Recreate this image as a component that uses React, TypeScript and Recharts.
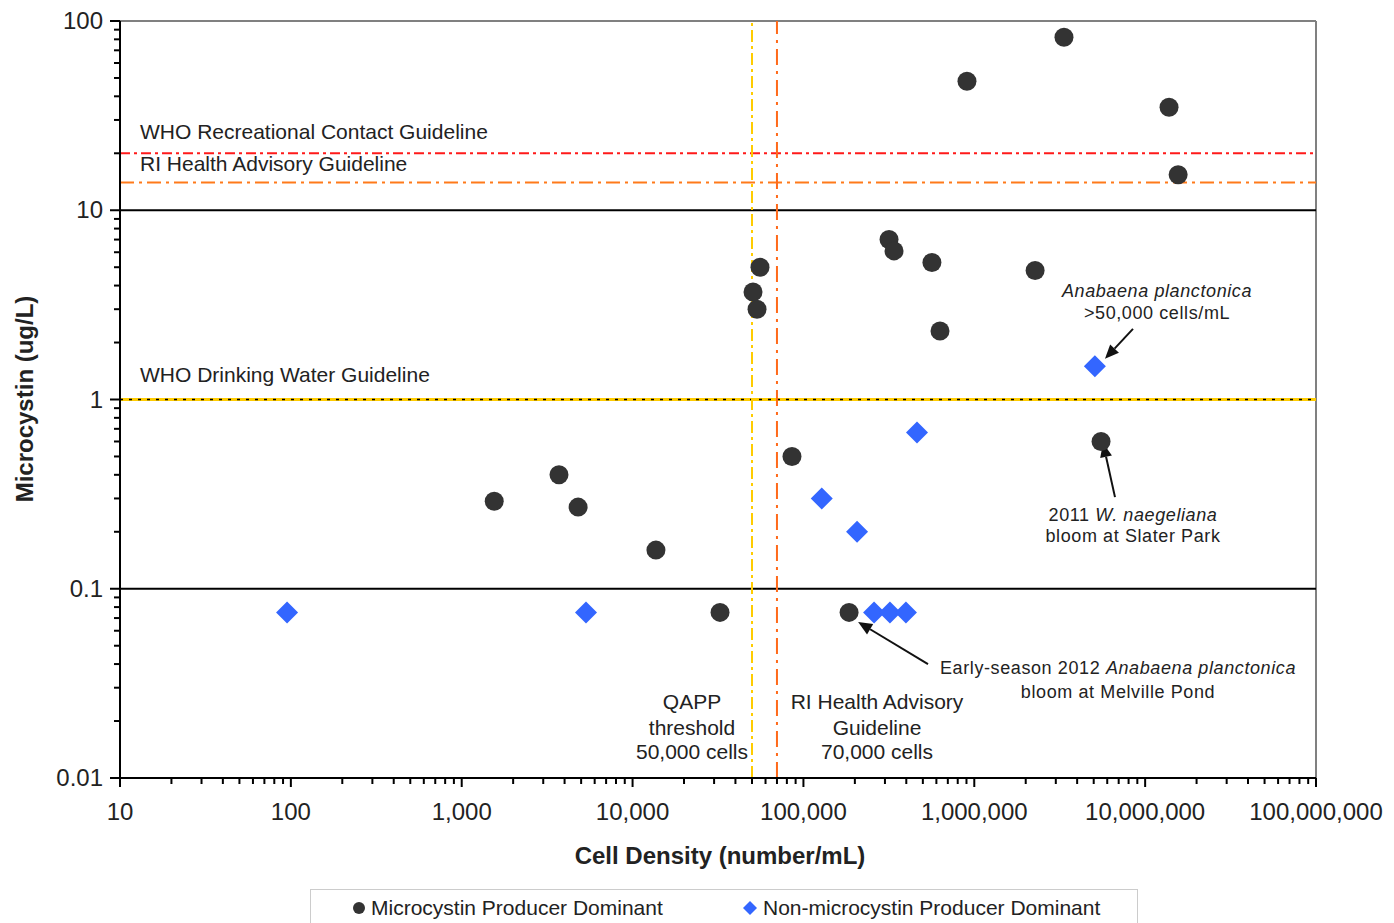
import React from "react"
import { ScatterChart, Scatter, XAxis, YAxis, ReferenceLine } from "recharts"

// cell density (number/mL) and microcystin (ug/L)
const producerDensity = [
  3350000, 906000, 13800000, 15600000, 317000, 339000, 565000, 2270000, 55700, 50700,
  53500, 630000, 5520000, 85700, 3710, 1550, 4800, 13700, 32500, 185000,
]
const producerMicrocystin = [
  82, 48, 35, 15.4, 7.0, 6.1, 5.3, 4.8, 5.0, 3.7,
  3.0, 2.3, 0.6, 0.5, 0.4, 0.29, 0.27, 0.16, 0.075, 0.075,
]
const nonProducerDensity = [5080000, 462000, 128000, 206000, 95, 5340, 259000, 321000, 398000]
const nonProducerMicrocystin = [1.5, 0.67, 0.3, 0.2, 0.075, 0.075, 0.075, 0.075, 0.075]

const xMajorTicks = [10, 100, 1000, 10000, 100000, 1000000, 10000000, 100000000]
const yMajorTicks = [0.01, 0.1, 1, 10, 100]

// guideline values
const whoRecreational = 20
const riHealthAdvisory = 14
const whoDrinking = 1
const qappThreshold = 50000
const riCellThreshold = 70000

// arrow annotations [from, to] in data units
const arrowAnabaena = [{ x: 8490000, y: 2.36 }, { x: 5820000, y: 1.64 }]
const arrowWoronichinia = [{ x: 6660000, y: 0.305 }, { x: 5670000, y: 0.589 }]
const arrowMelville = [{ x: 536000, y: 0.04 }, { x: 209000, y: 0.0667 }]

const withMinors = (majors: number[]) => {
  const out: number[] = []
  majors.forEach((m, i) => {
    out.push(m)
    if (i < majors.length - 1) for (let k = 2; k <= 9; k++) out.push(+(m * k).toPrecision(6))
  })
  return out
}
const xTicks = withMinors(xMajorTicks)
const yTicks = withMinors(yMajorTicks)
const isMajor = (v: number) => Math.abs(Math.log10(v) - Math.round(Math.log10(v))) < 1e-9

const producerData = producerDensity.map((x, i) => ({ x, y: producerMicrocystin[i] }))
const nonProducerData = nonProducerDensity.map((x, i) => ({ x, y: nonProducerMicrocystin[i] }))

const FONT = "'Liberation Sans', Arial, sans-serif"
const TEXT = "#222"

function XTick(props: any) {
  const { x, y, payload } = props
  const major = isMajor(payload.value)
  return (
    <g>
      <line x1={x} x2={x} y1={y} y2={y + (major ? 9 : 6)} stroke="#000" strokeWidth={2} />
      {major && (
        <text x={x} y={y + 42} textAnchor="middle" fontSize={24} fontFamily={FONT} fill={TEXT}>
          {payload.value.toLocaleString("en-US")}
        </text>
      )}
    </g>
  )
}

function YTick(props: any) {
  const { x, y, payload } = props
  const major = isMajor(payload.value)
  return (
    <g>
      <line x1={x - (major ? 10 : 6)} x2={x} y1={y} y2={y} stroke="#000" strokeWidth={2} />
      {major && (
        <text x={x - 17} y={y + 8} textAnchor="end" fontSize={24} fontFamily={FONT} fill={TEXT}>
          {String(payload.value)}
        </text>
      )}
    </g>
  )
}

const Dot = (p: any) => <circle cx={p.cx} cy={p.cy} r={9.5} fill="#333" />
const Diamond = (p: any) => (
  <polygon
    points={`${p.cx},${p.cy - 11} ${p.cx + 11},${p.cy} ${p.cx},${p.cy + 11} ${p.cx - 11},${p.cy}`}
    fill="#3366ff"
  />
)

const Arrow = (p: any) => {
  const { x1, y1, x2, y2 } = p
  const a = Math.atan2(y2 - y1, x2 - x1)
  const len = 14
  const w = 6
  const bx = x2 - len * Math.cos(a)
  const by = y2 - len * Math.sin(a)
  const px = -Math.sin(a) * w
  const py = Math.cos(a) * w
  return (
    <g>
      <line x1={x1} y1={y1} x2={bx} y2={by} stroke="#111" strokeWidth={2} />
      <polygon points={`${x2},${y2} ${bx + px},${by + py} ${bx - px},${by - py}`} fill="#111" />
    </g>
  )
}

export default function App() {
  const small = { fontSize: 18, fontFamily: FONT, fill: TEXT, letterSpacing: 0.6 }
  const mid = { fontSize: 21, fontFamily: FONT, fill: TEXT }
  return (
    <div style={{ position: "absolute", left: 0, top: 0, width: 1394, height: 923, background: "#fff" }}>
      <div style={{ position: "absolute", left: 0, top: 0 }}>
        <ScatterChart width={1394} height={923} margin={{ top: 21, right: 78, bottom: 85, left: 20 }}>
          <XAxis
            type="number"
            dataKey="x"
            scale="log"
            domain={[10, 100000000]}
            ticks={xTicks}
            interval={0}
            tickSize={0}
            tickMargin={0}
            tickLine={false}
            tick={(p: any) => <XTick {...p} />}
            axisLine={{ stroke: "#000", strokeWidth: 2 }}
            height={60}
            allowDataOverflow
          />
          <YAxis
            type="number"
            dataKey="y"
            scale="log"
            domain={[0.01, 100]}
            ticks={yTicks}
            interval={0}
            tickSize={0}
            tickMargin={0}
            tickLine={false}
            tick={(p: any) => <YTick {...p} />}
            axisLine={{ stroke: "#000", strokeWidth: 2 }}
            width={100}
            allowDataOverflow
          />
          <ReferenceLine y={100} stroke="#808080" strokeWidth={2} />
          <ReferenceLine x={100000000} stroke="#808080" strokeWidth={2} />
          <ReferenceLine y={10} stroke="#000" strokeWidth={2} />
          <ReferenceLine y={0.1} stroke="#000" strokeWidth={2} />
          <ReferenceLine y={whoRecreational} stroke="#ff1a1a" strokeWidth={2} strokeDasharray="10 4 3 4" />
          <ReferenceLine y={riHealthAdvisory} stroke="#ff7a1a" strokeWidth={2} strokeDasharray="14 5 3 5" />
          <ReferenceLine y={whoDrinking} stroke="#ffcc00" strokeWidth={3} />
          <ReferenceLine y={whoDrinking} stroke="#000" strokeWidth={1.5} strokeDasharray="3 6" />
          <ReferenceLine x={qappThreshold} stroke="#ffcc00" strokeWidth={2} strokeDasharray="12 4 3 4" />
          <ReferenceLine x={riCellThreshold} stroke="#ff6a1a" strokeWidth={2} strokeDasharray="16 6 3 6" />
          <Scatter data={producerData} shape={Dot} isAnimationActive={false} />
          <Scatter data={nonProducerData} shape={Diamond} isAnimationActive={false} />
          <ReferenceLine segment={arrowAnabaena} ifOverflow="visible" shape={Arrow} />
          <ReferenceLine segment={arrowWoronichinia} ifOverflow="visible" shape={Arrow} />
          <ReferenceLine segment={arrowMelville} ifOverflow="visible" shape={Arrow} />
        </ScatterChart>
      </div>

      <svg width={1394} height={923} style={{ position: "absolute", left: 0, top: 0, pointerEvents: "none" }}>
        <text x={140} y={139} {...mid}>WHO Recreational Contact Guideline</text>
        <text x={140} y={171} {...mid}>RI Health Advisory Guideline</text>
        <text x={140} y={382} {...mid}>WHO Drinking Water Guideline</text>

        <text x={1157} y={297} textAnchor="middle" {...small} fontStyle="italic">Anabaena planctonica</text>
        <text x={1157} y={319} textAnchor="middle" {...small}>&gt;50,000 cells/mL</text>
        <text x={1133} y={521} textAnchor="middle" {...small}>
          2011 <tspan fontStyle="italic">W. naegeliana</tspan>
        </text>
        <text x={1133} y={542} textAnchor="middle" {...small}>bloom at Slater Park</text>
        <text x={1118} y={674} textAnchor="middle" {...small}>
          Early-season 2012 <tspan fontStyle="italic">Anabaena planctonica</tspan>
        </text>
        <text x={1118} y={698} textAnchor="middle" {...small}>bloom at Melville Pond</text>

        <text x={692} y={709} textAnchor="middle" {...mid}>QAPP</text>
        <text x={692} y={735} textAnchor="middle" {...mid}>threshold</text>
        <text x={692} y={759} textAnchor="middle" {...mid}>50,000 cells</text>
        <text x={877} y={709} textAnchor="middle" {...mid}>RI Health Advisory</text>
        <text x={877} y={735} textAnchor="middle" {...mid}>Guideline</text>
        <text x={877} y={759} textAnchor="middle" {...mid}>70,000 cells</text>

        <text x={720} y={864} textAnchor="middle" fontSize={24} fontWeight="bold" fontFamily={FONT} fill={TEXT}>
          Cell Density (number/mL)
        </text>
        <text
          transform="translate(33,399) rotate(-90)"
          textAnchor="middle"
          fontSize={24}
          fontWeight="bold"
          fontFamily={FONT}
          fill={TEXT}
        >
          Microcystin (ug/L)
        </text>
      </svg>

      <div
        style={{
          position: "absolute",
          left: 310,
          top: 889,
          width: 828,
          height: 50,
          border: "1px solid #ccc",
          boxSizing: "border-box",
          fontFamily: FONT,
          fontSize: 21,
          color: TEXT,
        }}
      >
        <svg width={828} height={40} style={{ position: "absolute", left: 0, top: 0 }}>
          <circle cx={48} cy={18} r={6} fill="#333" />
          <polygon points="439,11 446,18 439,25 432,18" fill="#3366ff" />
          <text x={60} y={25} fontSize={21} fontFamily={FONT} fill={TEXT}>Microcystin Producer Dominant</text>
          <text x={452} y={25} fontSize={21} fontFamily={FONT} fill={TEXT}>Non-microcystin Producer Dominant</text>
        </svg>
      </div>
    </div>
  )
}
